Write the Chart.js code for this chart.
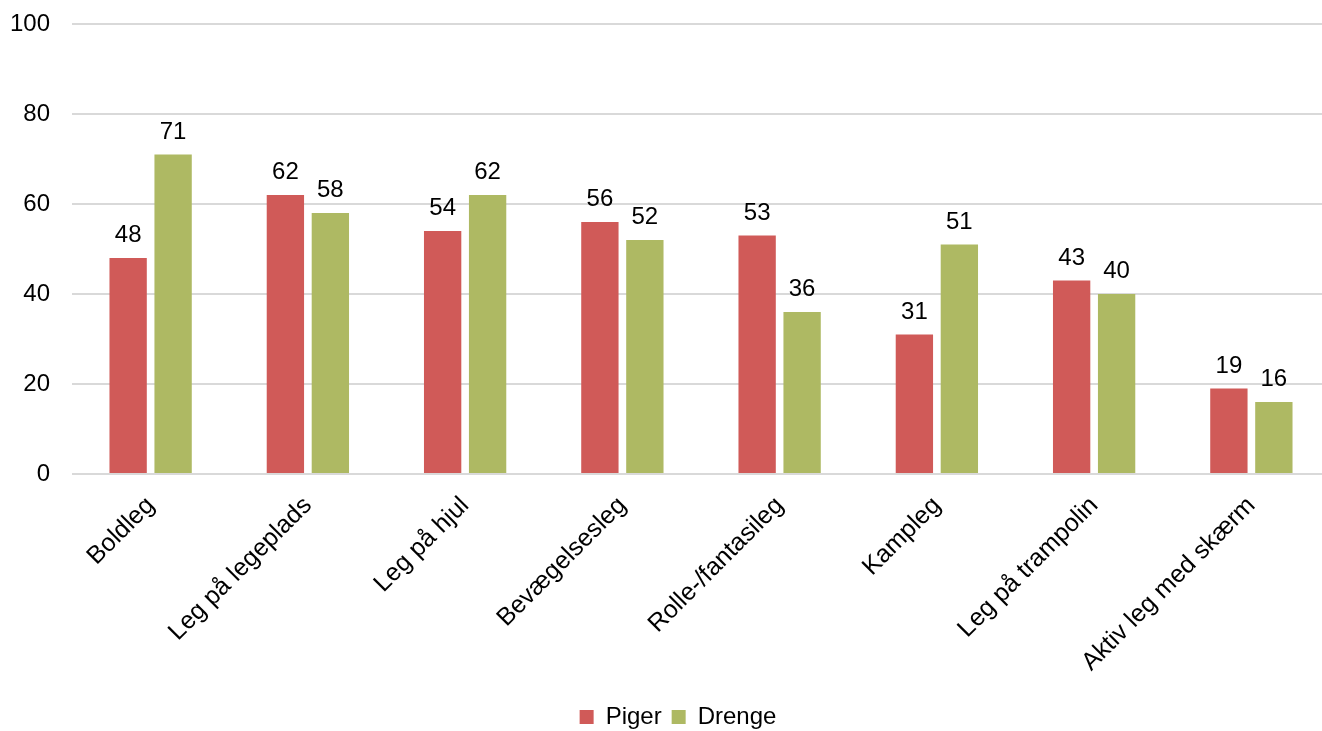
<!DOCTYPE html>
<html>
<head>
<meta charset="utf-8">
<script src="https://cdn.jsdelivr.net/npm/chart.js@4"></script>
<style>
  html, body { margin: 0; padding: 0; background: #fff; overflow: hidden; }
  #wrap { width: 1340px; height: 731px; }
</style>
</head>
<body>
<div id="wrap"><canvas id="myChart"></canvas></div>
<script>
const categories = ['Boldleg', 'Leg på legeplads', 'Leg på hjul', 'Bevægelsesleg',
    'Rolle-/fantasileg', 'Kampleg', 'Leg på trampolin', 'Aktiv leg med skærm'];
const piger = [48, 62, 54, 56, 53, 31, 43, 19];
const drenge = [71, 58, 62, 52, 36, 51, 40, 16];
const yTicks = [0, 20, 40, 60, 80, 100];

const FONT = '"Liberation Sans", Arial, sans-serif';

// Writes the value above each bar
const valueLabels = {
    id: 'valueLabels',
    afterDatasetsDraw(chart) {
        const ctx = chart.ctx;
        ctx.save();
        ctx.font = '24px ' + FONT;
        ctx.fillStyle = '#000';
        ctx.textAlign = 'center';
        ctx.textBaseline = 'alphabetic';
        chart.data.datasets.forEach((ds, i) => {
            chart.getDatasetMeta(i).data.forEach((bar, j) => {
                ctx.fillText(String(ds.data[j]), bar.x, bar.y - 16);
            });
        });
        ctx.restore();
    }
};

const ctx = document.getElementById('myChart');

new Chart(ctx, {
    type: 'bar',
    data: {
        labels: categories,
        datasets: [{
            label: 'Piger',
            data: piger,
            backgroundColor: '#D05A58',
            categoryPercentage: 0.572,
            barPercentage: 0.83
        }, {
            label: 'Drenge',
            data: drenge,
            backgroundColor: '#AEB963',
            categoryPercentage: 0.572,
            barPercentage: 0.83
        }]
    },
    options: {
        responsive: true,
        maintainAspectRatio: false,
        animation: false,
        layout: {
            padding: { left: 26, right: 10, top: 24, bottom: -8 }
        },
        plugins: {
            tooltip: { enabled: false },
            legend: {
                position: 'bottom',
                labels: {
                    color: '#000',
                    font: { family: FONT, size: 24 },
                    boxWidth: 14,
                    boxHeight: 14,
                    padding: 10
                }
            }
        },
        scales: {
            x: {
                afterFit(scale) { scale.height = 221; },
                grid: { display: false, drawTicks: false },
                border: { display: false },
                ticks: {
                    color: '#000',
                    font: { family: FONT, size: 25 },
                    minRotation: 45,
                    maxRotation: 45,
                    padding: 17
                }
            },
            y: {
                min: 0,
                max: 100,
                afterFit(scale) { scale.width = 46; },
                afterBuildTicks(scale) { scale.ticks = yTicks.map(v => ({ value: v })); },
                grid: { color: '#D9D9D9', lineWidth: 2, drawTicks: false },
                border: { display: false },
                ticks: {
                    color: '#000',
                    font: { family: FONT, size: 24 },
                    // labels sit right-aligned, ending 22px left of the plot
                    mirror: true,
                    crossAlign: 'far',
                    padding: -62
                }
            }
        }
    },
    plugins: [valueLabels]
});
</script>
</body>
</html>
